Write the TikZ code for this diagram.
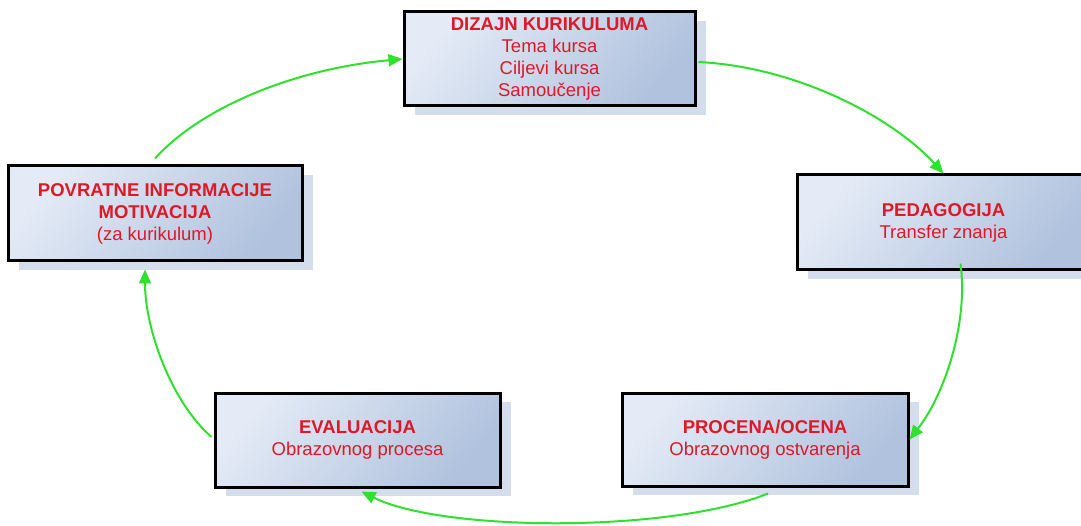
\documentclass[tikz,border=0pt]{standalone}
\usepackage{fontspec}
\setmainfont{Liberation Sans}
\usetikzlibrary{arrows.meta,shadows,calc}
\definecolor{txtred}{RGB}{222,24,38}
\definecolor{arrgreen}{RGB}{45,225,45}
\definecolor{boxl}{RGB}{228,235,246}
\definecolor{boxr}{RGB}{176,194,222}
\definecolor{shadowc}{RGB}{212,221,236}
\begin{document}
\begin{tikzpicture}[x=1pt,y=-1pt,
  box/.style={rectangle, draw=black, line width=3pt, left color=boxl, right color=boxr, shading angle=50,
    drop shadow={shadow xshift=11pt, shadow yshift=-9pt, fill=shadowc, opacity=1},
    text=txtred, align=center, font=\fontsize{18.5}{22}\selectfont, inner sep=0pt},
  conn/.style={draw=arrgreen, line width=2pt, -{Triangle[length=14pt,width=12pt]}}]
\useasboundingbox (0,0) rectangle (1081,526);
\clip (0,0) rectangle (1081,526);
\node[box, minimum width=291pt, minimum height=94pt] (b1) at (549.5,59)
  {\textbf{DIZAJN KURIKULUMA}\\Tema kursa\\Ciljevi kursa\\Samoučenje};
\node[box, minimum width=293pt, minimum height=95pt] (b2) at (943.5,222.5)
  {\textbf{PEDAGOGIJA}\\Transfer znanja};
\node[box, minimum width=286pt, minimum height=93pt] (b3) at (765,439.5)
  {\textbf{PROCENA/OCENA}\\Obrazovnog ostvarenja};
\node[box, minimum width=285pt, minimum height=94pt] (b4) at (357.5,440)
  {\textbf{EVALUACIJA}\\Obrazovnog procesa};
\node[box, minimum width=294pt, minimum height=95pt] (b5) at (155,213.5)
  {\textbf{POVRATNE INFORMACIJE}\\\textbf{MOTIVACIJA}\\(za kurikulum)};
\draw[conn] ($(b5.north)+(0,-6)$) .. controls +(45,-50) and +(-110,10) .. (b1.west);
\draw[conn] ($(b1.east)+(2,3)$) .. controls +(100,5) and +(-50,-55) .. (b2.north);
\draw[conn] ($(b2.south)+(17,-8)$) .. controls +(8,60) and +(35,-45) .. (b3.east);
\draw[conn] ($(b3.south)+(3,6)$) .. controls +(-100,40) and +(80,40) .. ($(b4.south)+(4,3)$);
\draw[conn] ($(b4.west)+(-2,-3)$) .. controls +(-40,-35) and +(0,60) .. ($(b5.south)+(-10,7)$);
\end{tikzpicture}
\end{document}
